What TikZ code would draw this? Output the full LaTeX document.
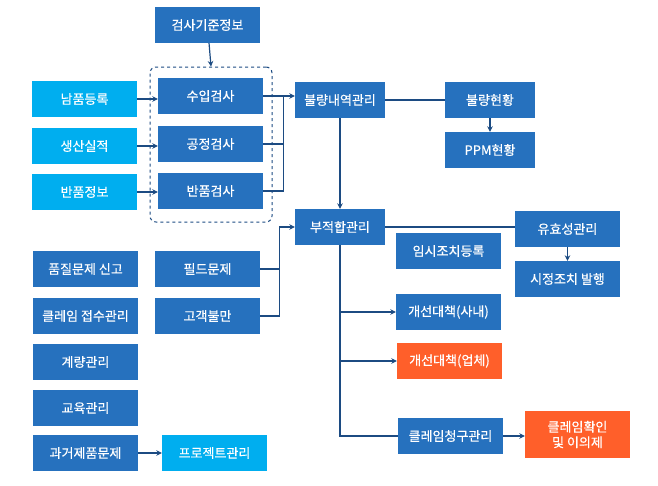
\documentclass[tikz,border=0pt]{standalone}
\usepackage{fontspec}
\setmainfont{Noto Sans CJK KR}
\newfontfamily\boxfont{Noto Sans CJK KR}[FakeBold=0.4]
\usetikzlibrary{arrows.meta}
\definecolor{boxblue}{HTML}{2671BE}
\definecolor{boxcyan}{HTML}{00AEEF}
\definecolor{boxorange}{HTML}{FF5F2A}
\definecolor{linknavy}{HTML}{1C4B82}
\tikzset{
  box/.style={fill=boxblue,text=white,minimum width=105pt,minimum height=36pt,inner sep=0pt,font=\boxfont\fontsize{13}{15.5}\selectfont},
  narrow/.style={box,minimum width=90pt},
  cyanbox/.style={box,fill=boxcyan},
  orangebox/.style={box,fill=boxorange},
  link/.style={draw=linknavy,line width=1.2pt},
  arr/.style={link,-{Stealth[length=5.5pt,width=5.5pt]}}
}
\begin{document}
\begin{tikzpicture}[x=1pt,y=-1pt]
\useasboundingbox (0,0) rectangle (658,485);
\node[draw=linknavy,dashed,line width=1pt,rounded corners=6pt,minimum width=122pt,minimum height=155pt,inner sep=0pt] (insp) at (211,144.5) {};

\node[box] (std) at (207.5,25) {검사기준정보};
\node[box] (incoming) at (210.5,96) {수입검사};
\node[box] (process) at (210.5,144) {공정검사};
\node[box] (returned) at (210.5,191) {반품검사};
\node[cyanbox] (delivery) at (84.5,99) {남품등록};
\node[cyanbox] (output) at (84.5,146) {생산실적};
\node[cyanbox] (retinfo) at (84.5,192) {반품정보};

\node[narrow] (defect) at (340,100) {불량내역관리};
\node[narrow] (status) at (490,100) {불량현황};
\node[narrow] (ppm) at (490,150) {PPM현황};
\node[narrow] (nonconf) at (340,227) {부적합관리};
\node[box] (validity) at (567.5,229) {유효성관리};
\node[box] (corrective) at (567.5,279) {시정조치 발행};
\node[box] (temporary) at (448.5,251) {임시조치등록};

\node[box] (field) at (207.5,269) {필드문제};
\node[box] (complaint) at (207.5,316) {고객불만};
\node[box] (report) at (85.5,269) {품질문제 신고};
\node[box] (claimrcv) at (85.5,316) {클레임 접수관리};
\node[box] (gauge) at (85.5,362) {계량관리};
\node[box] (training) at (85.5,408) {교육관리};
\node[box] (history) at (85.5,453) {과거제품문제};
\node[cyanbox] (project) at (214.5,453) {프로젝트관리};

\node[box] (inhouse) at (448.5,312) {개선대책(사내)};
\node[orangebox] (vendor) at (449.5,361) {개선대책(업체)};
\node[box] (claimbill) at (450.5,436) {클레임청구관리};
\node[orangebox,minimum height=47pt,align=center] (claimchk) at (577.5,434.5) {클레임확인\\및 이의제};

% inspection inputs
\draw[arr] (std) -- (insp.north);
\draw[arr] (delivery.east) -- (delivery.east -| incoming.west);
\draw[arr] (output.east) -- (output.east -| process.west);
\draw[arr] (retinfo.east) -- (retinfo.east -| returned.west);

% inspection results
\draw[link] (incoming.east) -- ++(20,0) coordinate (joinA);
\draw[link] (joinA) |- (returned.east);
\draw[link] (process.east) -- (process.east -| joinA);
\draw[arr] (joinA) -- (joinA -| defect.west);
\draw[link] (defect.east) -- (defect.east -| status.west);
\draw[arr] (status) -- (ppm);
\draw[arr] (defect) -- (nonconf);

% nonconformity
\draw[link] (nonconf.east) -- (nonconf.east -| validity.west);
\draw[arr] (validity) -- (corrective);
\draw[link] (field.east) -- ++(19,0) coordinate (joinB);
\draw[link] (joinB) |- (complaint.east);
\draw[arr] (joinB) |- (nonconf.west);
\draw[link] (nonconf.south) |- (claimbill.west);
\draw[arr] (inhouse.west -| nonconf.south) -- (inhouse.west);
\draw[arr] (vendor.west -| nonconf.south) -- (vendor.west);
\draw[arr] (claimbill.east) -- (claimbill.east -| claimchk.west);
\draw[arr] (history) -- (project);
\end{tikzpicture}
\end{document}
